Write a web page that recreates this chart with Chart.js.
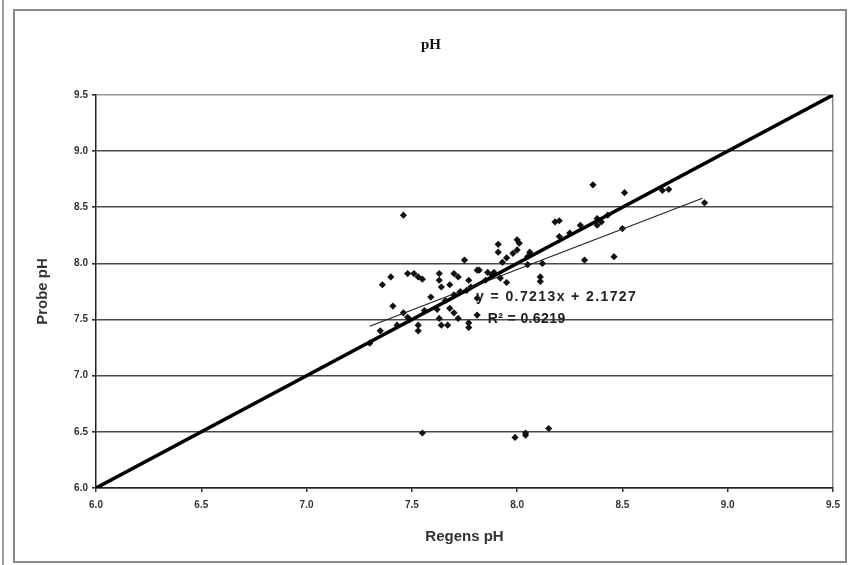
<!DOCTYPE html>
<html>
<head>
<meta charset="utf-8">
<script src="https://cdn.jsdelivr.net/npm/chart.js@4.4.0/dist/chart.umd.min.js"></script>
<style>
  html, body { margin: 0; padding: 0; background: #fff; }
  #wrap { position: relative; width: 849px; height: 565px; }
  #frame { position: absolute; left: 13px; top: 9px; width: 830px; height: 550px; border: 2px solid #8a8a8a; pointer-events: none; }
  #edge { position: absolute; left: 2px; top: 0; width: 2px; height: 565px; background: #9a9a9a; }
  canvas { position: absolute; left: 0; top: 0; }
</style>
</head>
<body>
<div id="wrap">
  <canvas id="c" width="849" height="565"></canvas>
  <div id="edge"></div>
  <div id="frame"></div>
</div>
<script>
// Measured points (Regens pH, Probe pH)
const regensPH = [7.46,7.75,7.81,7.36,7.40,7.48,7.51,7.53,7.55,7.63,7.63,7.64,7.70,7.72,7.68,7.73,7.77,7.78,7.59,7.41,
  7.81,7.81,7.68,7.70,7.72,7.62,7.63,7.64,7.67,7.77,7.77,7.49,7.53,7.53,7.46,7.48,7.30,7.35,7.43,7.56,
  7.66,7.70,7.76,7.85,7.88,8.18,8.20,7.91,7.91,8.00,8.01,7.98,8.00,8.06,8.05,7.93,7.95,8.12,8.32,8.38,
  8.30,8.38,8.43,7.82,7.86,7.89,7.92,7.95,8.11,8.11,8.05,8.20,8.25,8.36,8.51,8.69,8.72,8.89,8.50,8.46,
  8.40,7.55,7.99,8.04,8.04,8.15];
const probePH = [8.43,8.03,7.94,7.81,7.88,7.91,7.91,7.88,7.86,7.91,7.85,7.79,7.91,7.88,7.81,7.75,7.85,7.79,7.70,7.62,
  7.69,7.54,7.60,7.56,7.51,7.59,7.51,7.45,7.45,7.47,7.43,7.50,7.45,7.40,7.56,7.52,7.29,7.40,7.45,7.58,
  7.67,7.72,7.76,7.85,7.90,8.37,8.38,8.17,8.10,8.21,8.18,8.09,8.12,8.10,8.06,8.01,8.05,8.00,8.03,8.40,
  8.34,8.34,8.43,7.94,7.92,7.92,7.87,7.83,7.88,7.84,7.99,8.24,8.27,8.70,8.63,8.65,8.66,8.54,8.31,8.06,
  8.37,6.49,6.45,6.47,6.49,6.53];
// 1:1 reference line
const identityX = [6.0, 9.5];
const identityY = [6.0, 9.5];
// linear trend line end points
const trendX = [7.30, 8.88];
const trendY = [7.44, 8.58];
const tickValues = [6.0, 6.5, 7.0, 7.5, 8.0, 8.5, 9.0, 9.5];
const titleText = 'pH';
const xTitle = 'Regens pH';
const yTitle = 'Probe pH';
const eqText = 'y = 0.7213x + 2.1727';
const r2Text = 'R\u00B2 = 0.6219';

const toPts = (xs, ys) => xs.map((x, i) => ({x: x, y: ys[i]}));

const eqPlugin = {
  id: 'eq',
  afterDatasetsDraw(chart) {
    const ctx = chart.ctx;
    const xs = chart.scales.x, ys = chart.scales.y;
    const hasLS = 'letterSpacing' in ctx;
    ctx.save();
    ctx.fillStyle = '#222';
    ctx.font = 'bold 14px "Liberation Sans", Arial, sans-serif';
    ctx.textBaseline = 'middle';
    ctx.textAlign = 'left';
    if (hasLS) ctx.letterSpacing = '1.4px';
    ctx.fillText(eqText, xs.getPixelForValue(7.805), ys.getPixelForValue(7.70));
    if (hasLS) ctx.letterSpacing = '0.4px';
    ctx.fillText(r2Text, xs.getPixelForValue(7.86), ys.getPixelForValue(7.50));
    if (hasLS) ctx.letterSpacing = '0px';
    ctx.restore();
  }
};

new Chart(document.getElementById('c'), {
  type: 'scatter',
  data: {
    datasets: [
      {
        label: 'Probe pH',
        data: toPts(regensPH, probePH),
        pointStyle: 'rectRot',
        pointRadius: 3.6,
        backgroundColor: '#111',
        borderColor: '#111',
        borderWidth: 0,
        order: 2
      },
      {
        label: '1:1',
        data: toPts(identityX, identityY),
        showLine: true,
        borderColor: '#000',
        borderWidth: 3.5,
        pointRadius: 0,
        order: 1
      },
      {
        label: 'Trend',
        data: toPts(trendX, trendY),
        showLine: true,
        borderColor: '#222',
        borderWidth: 1.2,
        pointRadius: 0,
        order: 0
      }
    ]
  },
  options: {
    responsive: false,
    animation: false,
    layout: { padding: { left: 29, right: 16, top: 0, bottom: 0 } },
    plugins: {
      legend: { display: false },
      tooltip: { enabled: false },
      title: {
        display: true,
        text: titleText,
        color: '#111',
        font: { family: '"Liberation Serif", "Times New Roman", serif', size: 15, weight: 'bold' },
        padding: { top: 36, bottom: 41 }
      }
    },
    scales: {
      x: {
        type: 'linear',
        min: 6, max: 9.5,
        afterBuildTicks: s => { s.ticks = tickValues.map(v => ({value: v})); },
        afterFit: s => { s.height = 77; },
        ticks: {
          color: '#333',
          font: { family: '"Liberation Sans", Arial, sans-serif', size: 10, weight: 'bold' },
          padding: 7,
          maxRotation: 0,
          callback: v => v.toFixed(1)
        },
        grid: {
          color: ctx => (ctx.index === tickValues.length - 1 ? '#8a8a8a' : 'rgba(0,0,0,0)'),
          lineWidth: 1.5,
          tickColor: '#333',
          tickLength: 4,
          drawOnChartArea: true
        },
        border: { color: '#222', width: 1.5 },
        title: {
          display: true,
          text: xTitle,
          color: '#333',
          font: { family: '"Liberation Sans", Arial, sans-serif', size: 15, weight: 'bold' },
          padding: { top: 0, bottom: 19 }
        }
      },
      y: {
        type: 'linear',
        min: 6, max: 9.5,
        afterBuildTicks: s => { s.ticks = tickValues.map(v => ({value: v})); },
        afterFit: s => { s.width = 67; },
        ticks: {
          color: '#333',
          font: { family: '"Liberation Sans", Arial, sans-serif', size: 10, weight: 'bold' },
          padding: 4,
          callback: v => v.toFixed(1)
        },
        grid: {
          color: ctx => (ctx.index === tickValues.length - 1 ? '#9a9a9a' : '#4a4a4a'),
          lineWidth: 1.6,
          tickColor: '#333',
          tickLength: 4
        },
        border: { color: '#222', width: 1.5 },
        title: {
          display: true,
          text: yTitle,
          color: '#333',
          font: { family: '"Liberation Sans", Arial, sans-serif', size: 15, weight: 'bold' },
          padding: { top: 5, bottom: 0 }
        }
      }
    }
  },
  plugins: [eqPlugin]
});
</script>
</body>
</html>
